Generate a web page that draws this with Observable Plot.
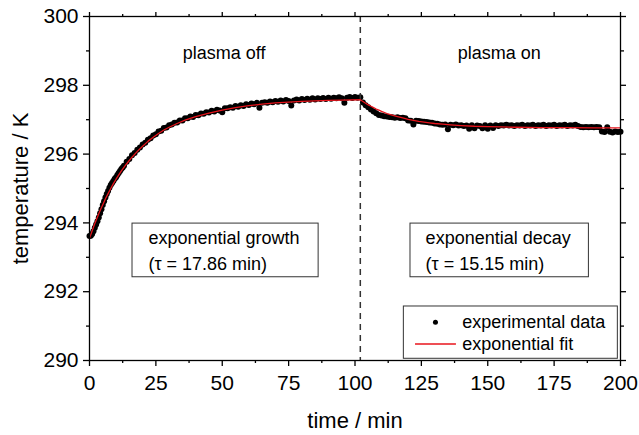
<!DOCTYPE html>
<html>
<head>
<meta charset="utf-8">
<script src="https://cdn.jsdelivr.net/npm/d3@7"></script>
<script src="https://cdn.jsdelivr.net/npm/@observablehq/plot@0.6"></script>
<style>
  html, body { margin: 0; padding: 0; background: #fff; }
  #chart { width: 639px; height: 435px; }
</style>
</head>
<body>
<div id="chart"></div>
<script>
// ---------- data ----------
// experimental data, early part sampled every 0.5 min
const earlyTime = [0, 0.5, 1, 1.5, 2, 2.5, 3, 3.5, 4, 4.5, 5, 5.5, 6, 6.5, 7, 7.5, 8, 8.5, 9, 9.5, 10, 10.5, 11, 11.5, 12, 12.5];
const earlyTemp = [293.62, 293.63, 293.68, 293.76, 293.86, 293.95, 294.05, 294.16, 294.28, 294.40, 294.52, 294.63, 294.74, 294.84, 294.93, 295.02, 295.10, 295.16, 295.22, 295.28, 295.33, 295.39, 295.45, 295.51, 295.57, 295.61];
// experimental data from 13 min onwards, one value per minute
const laterStart = 13;
const laterStep = 1;
const laterTemp = [
  295.66, 295.78, 295.86, 295.97, 296.03, 296.13, 296.19, 296.28, 296.33, 296.42, // 13-22
  296.46, 296.54, 296.58, 296.66, 296.68, 296.76, 296.77, 296.84, 296.86, 296.91, // 23-32
  296.92, 296.98, 296.98, 297.04, 297.04, 297.09, 297.08, 297.14, 297.13, 297.18, // 33-42
  297.17, 297.22, 297.21, 297.26, 297.24, 297.29, 297.27, 297.22, 297.33, 297.33, // 43-52
  297.36, 297.35, 297.40, 297.38, 297.42, 297.40, 297.45, 297.43, 297.47, 297.45, // 53-62
  297.49, 297.35, 297.49, 297.51, 297.49, 297.53, 297.51, 297.54, 297.52, 297.56, // 63-72
  297.53, 297.57, 297.54, 297.41, 297.56, 297.59, 297.56, 297.60, 297.57, 297.61, // 73-82
  297.58, 297.62, 297.59, 297.62, 297.60, 297.63, 297.60, 297.64, 297.61, 297.64, // 83-92
  297.62, 297.65, 297.62, 297.49, 297.64, 297.66, 297.63, 297.66, 297.64, 297.65, // 93-102
  297.50, 297.42, 297.36, 297.30, 297.24, 297.19, 297.14, 297.12, 297.10, 297.09, // 103-112
  297.08, 297.07, 297.06, 297.07, 297.05, 297.06, 297.04, 296.98, 296.97, 296.86, // 113-122
  296.97, 296.96, 296.95, 296.94, 296.93, 296.92, 296.91, 296.89, 296.88, 296.86, // 123-132
  296.85, 296.86, 296.72, 296.85, 296.84, 296.86, 296.83, 296.84, 296.82, 296.83, // 133-142
  296.74, 296.84, 296.75, 296.83, 296.82, 296.75, 296.84, 296.74, 296.83, 296.76, // 143-152
  296.84, 296.82, 296.84, 296.83, 296.85, 296.83, 296.84, 296.82, 296.84, 296.83, // 153-162
  296.85, 296.82, 296.84, 296.83, 296.85, 296.82, 296.84, 296.83, 296.85, 296.82, // 163-172
  296.84, 296.83, 296.85, 296.82, 296.84, 296.83, 296.85, 296.82, 296.84, 296.83, // 173-182
  296.85, 296.82, 296.79, 296.78, 296.79, 296.78, 296.79, 296.78, 296.79, 296.78, // 183-192
  296.66, 296.64, 296.78, 296.65, 296.63, 296.66, 296.64, 296.65                  // 193-200
];
// exponential fit curves (growth then decay)
const fitTime = [0, 1, 2, 3, 4, 5, 6, 7, 8, 9, 10, 12, 14, 16, 18, 20, 22, 24, 26, 28, 30, 33, 36, 40, 45, 50, 55, 60, 65, 70, 75, 80, 85, 90, 95, 102,
                 103, 104, 105, 106, 107, 108, 109, 110, 112, 114, 116, 118, 120, 122, 124, 126, 128, 130, 133, 136, 140, 145, 150, 155, 160, 170, 180, 190, 200];
const fitTemp = [293.55, 293.77, 293.98, 294.17, 294.36, 294.53, 294.70, 294.85, 295.00, 295.14, 295.27, 295.51, 295.72, 295.91, 296.08, 296.23, 296.37, 296.49, 296.60, 296.70, 296.78, 296.89, 296.99, 297.09, 297.19, 297.28, 297.35, 297.41, 297.45, 297.49, 297.51, 297.53, 297.55, 297.56, 297.57, 297.58,
                 297.53, 297.48, 297.43, 297.39, 297.35, 297.31, 297.28, 297.24, 297.18, 297.13, 297.09, 297.05, 297.01, 296.98, 296.95, 296.93, 296.91, 296.89, 296.87, 296.85, 296.83, 296.81, 296.80, 296.79, 296.78, 296.77, 296.77, 296.76, 296.76];
const plasmaSwitch = 102;          // min, plasma switched on
const xMajorTicks = [0, 25, 50, 75, 100, 125, 150, 175, 200];
const xMinorTicks = [12.5, 37.5, 62.5, 87.5, 112.5, 137.5, 162.5, 187.5];
const yMajorTicks = [290, 292, 294, 296, 298, 300];
const yMinorTicks = [291, 293, 295, 297, 299];
const phaseLabels = ["plasma off", "plasma on"];
const growthText = ["exponential growth", "(\u03c4 = 17.86 min)"];
const decayText = ["exponential decay", "(\u03c4 = 15.15 min)"];
const legendLabels = ["experimental data", "exponential fit"];

// ---------- build table ----------
const data = earlyTime.map((t, i) => ({t, T: earlyTemp[i]}))
  .concat(laterTemp.map((T, i) => ({t: laterStart + i * laterStep, T})));
const fit = fitTime.map((t, i) => ({t, T: fitTemp[i]}));

const FONT = "'Liberation Sans', Arial, Helvetica, sans-serif";
const RED = "#e8141c";

const chart = Plot.plot({
  width: 639,
  height: 435,
  marginLeft: 89,
  marginRight: 19,
  marginTop: 16,
  marginBottom: 75,
  style: {fontFamily: FONT, background: "#fff", color: "#000"},
  x: {domain: [0, 200], label: null},
  y: {domain: [290, 300], label: null},
  marks: [
    // data & fit
    Plot.dot(data, {x: "t", y: "T", r: 3, fill: "#000", stroke: "none"}),
    Plot.line(fit, {x: "t", y: "T", stroke: RED, strokeWidth: 1.3}),
    Plot.ruleX([plasmaSwitch], {stroke: "#333", strokeWidth: 1.5, strokeDasharray: "6,5"}),
    // frame & axes
    Plot.frame({stroke: "#000", strokeWidth: 1.3}),
    Plot.axisX({ticks: xMajorTicks, tickSize: 6, tickPadding: 9, fontSize: 21, strokeWidth: 1.3, label: null}),
    Plot.axisX({ticks: xMinorTicks, tickSize: 3, fill: "none", strokeWidth: 1.3, label: null}),
    Plot.axisX({anchor: "top", ticks: xMajorTicks, tickSize: 5, fill: "none", strokeWidth: 1.3, label: null}),
    Plot.axisX({anchor: "top", ticks: xMinorTicks, tickSize: 3, fill: "none", strokeWidth: 1.3, label: null}),
    Plot.axisY({ticks: yMajorTicks, tickSize: 6, tickPadding: 5, fontSize: 21, strokeWidth: 1.3, label: null}),
    Plot.axisY({ticks: yMinorTicks, tickSize: 3, fill: "none", strokeWidth: 1.3, label: null}),
    Plot.axisY({anchor: "right", ticks: yMajorTicks, tickSize: 5, fill: "none", strokeWidth: 1.3, label: null}),
    Plot.axisY({anchor: "right", ticks: yMinorTicks, tickSize: 3, fill: "none", strokeWidth: 1.3, label: null}),
    // axis titles
    Plot.text(["temperature / K"], {frameAnchor: "left", rotate: -90, dx: -69, textAnchor: "middle", lineAnchor: "middle", fontSize: 22, fill: "#000"}),
    Plot.text(["time / min"], {frameAnchor: "bottom", dy: 60, textAnchor: "middle", lineAnchor: "middle", fontSize: 22, fill: "#000"}),
    // phase labels
    Plot.text([phaseLabels[0]], {x: 50.7, y: 298.94, fontSize: 18, fill: "#000"}),
    Plot.text([phaseLabels[1]], {x: 154.3, y: 298.94, fontSize: 18, fill: "#000"}),
    // annotation boxes
    Plot.rect([0], {x1: 16.2, x2: 86.3, y1: 292.42, y2: 293.98, fill: "#fff", stroke: "#333", strokeWidth: 1}),
    Plot.text(growthText, {x: 22.2, y: [293.54, 292.81], text: d => d, textAnchor: "start", fontSize: 18, fill: "#000"}),
    Plot.rect([0], {x1: 120.9, x2: 188.1, y1: 292.42, y2: 293.98, fill: "#fff", stroke: "#333", strokeWidth: 1}),
    Plot.text(decayText, {x: 126.6, y: [293.54, 292.81], text: d => d, textAnchor: "start", fontSize: 18, fill: "#000"}),
    // legend
    Plot.rect([0], {x1: 118.4, x2: 199.0, y1: 290.05, y2: 291.57, fill: "#fff", stroke: "#333", strokeWidth: 1}),
    Plot.dot([0], {x: 130.3, y: 291.11, r: 2.5, fill: "#000", stroke: "none"}),
    Plot.ruleY([290.48], {x1: 122.8, x2: 138.2, stroke: RED, strokeWidth: 1.3}),
    Plot.text(legendLabels, {x: 140.4, y: [291.11, 290.48], text: d => d, textAnchor: "start", fontSize: 18, fill: "#000"})
  ]
});
document.getElementById("chart").appendChild(chart);
</script>
</body>
</html>
